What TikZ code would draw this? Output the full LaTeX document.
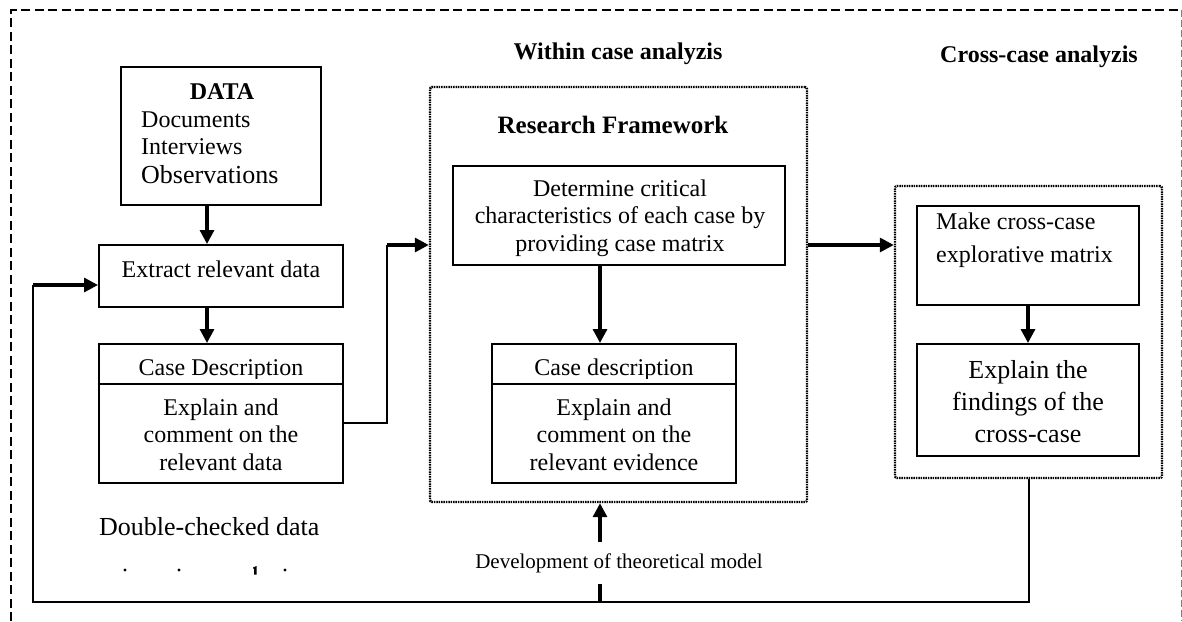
\documentclass[tikz,border=0pt]{standalone}
\usepackage{fontspec}
\setmainfont{Liberation Serif}
\usetikzlibrary{arrows.meta}
\begin{document}
\begin{tikzpicture}[x=1pt,y=-1pt,
  box/.style={draw, line width=2pt, inner sep=0pt},
  group/.style={draw, line width=2.4pt, dash pattern=on 1.5pt off 0.9pt, rounded corners=2pt, inner sep=0pt},
  link/.style={line width=2pt},
  bar/.style={line width=3.2pt},
  flow/.style={line width=3.2pt, -{Triangle[length=14pt,width=14pt]}},
  txt/.style={inner sep=0pt, font=\fontsize{24}{27.5}\selectfont, align=center},
  head/.style={inner sep=0pt, font=\fontsize{24}{28}\selectfont\bfseries}]

\useasboundingbox (0,0) rectangle (1182,621);

% outer frame
\draw[line width=2.8pt, dash pattern=on 9pt off 4.5pt] (11,621) -- (11,10) -- (1180,10);
\draw[gray, line width=1pt, dash pattern=on 7pt off 3pt] (1181,10) -- (1181,621);

% column headings
\node[head, anchor=base] (hWithin) at (618,59) {Within case analyzis};
\node[head, anchor=base] (hCross) at (1039,62) {Cross-case analyzis};

% ---- data preparation column ----
\node[box, minimum width=200pt, minimum height=138pt] (data) at (221,136) {};
\node[head, anchor=base] (dataT) at (222,99) {DATA};
\node[txt, anchor=base west] (docT) at (141,127) {Documents};
\node[txt, anchor=base west] (intT) at (141,154) {Interviews};
\node[txt, anchor=base west, font=\fontsize{26}{28}\selectfont] (obsT) at (141,183) {Observations};

\node[box, minimum width=244pt, minimum height=62pt] (extract) at (221,276) {};
\node[txt, anchor=base] (extractT) at (221,277) {Extract relevant data};

\node[box, minimum width=244pt, minimum height=40pt] (caseAh) at (221,364) {};
\node[box, minimum width=244pt, minimum height=99pt] (caseAb) at (221,433.5) {};
\begin{scope}
  \clip (caseAh.north west) rectangle ([yshift=7pt]caseAh.south east);
  \node[txt, anchor=base] (caseAhT) at (221,375) {Case Description};
\end{scope}
% multi-line texts are placed by the baseline of their last line
\node[txt, anchor=base] (caseAbT) at (221,470) {Explain and\\comment on the\\relevant data};

\node[txt, anchor=base west, font=\fontsize{26}{28}\selectfont] (dbl) at (99,535) {Double-checked data};
% tops of a clipped text line
\fill (125,570) circle (1.6pt);
\fill (179,570) circle (1.6pt);
\fill (285,570) circle (1.6pt);
\fill (253,567.5) -- (256.5,566) -- (256.5,574.5) -- (254,574.5) -- (254,568.5) -- (253,568.5) -- cycle;

% ---- within case analysis ----
\node[group, minimum width=377pt, minimum height=415pt] (rf) at (618.5,294.5) {};
\node[head, anchor=base, font=\fontsize{25}{28}\selectfont\bfseries] (rfT) at (613,133) {Research Framework};
\node[box, minimum width=332pt, minimum height=99pt] (det) at (619,215.5) {};
\node[txt, anchor=base] (detT) at (620,251) {Determine critical\\characteristics of each case by\\providing case matrix};

\node[box, minimum width=244pt, minimum height=40pt] (caseBh) at (614,364) {};
\node[box, minimum width=244pt, minimum height=99pt] (caseBb) at (614,433.5) {};
\begin{scope}
  \clip (caseBh.north west) rectangle ([yshift=7pt]caseBh.south east);
  \node[txt, anchor=base] (caseBhT) at (614,375) {Case description};
\end{scope}
\node[txt, anchor=base] (caseBbT) at (614,470) {Explain and\\comment on the\\relevant evidence};

\node[txt, anchor=base, font=\fontsize{21}{24}\selectfont, inner ysep=11pt] (dev) at (619,568) {Development of theoretical model};

% ---- cross-case analysis ----
\node[group, minimum width=267pt, minimum height=292pt] (cc) at (1028.5,332) {};
\node[box, minimum width=222pt, minimum height=99pt] (mk) at (1028,255.5) {};
\node[txt, anchor=base west, align=left, font=\fontsize{24}{33}\selectfont] (mkT) at (936,262) {Make cross-case\\explorative matrix};
\node[box, minimum width=222pt, minimum height=112pt] (fnd) at (1028,400) {};
\node[txt, anchor=base, font=\fontsize{26}{32}\selectfont] (fndT) at (1028,442) {Explain the\\findings of the\\cross-case};

% ---- connectors ----
\coordinate (c1) at (387,423);
\coordinate (c2) at (387,245);
\coordinate (b1) at (33,602);
\coordinate (c3) at (33,285);
\coordinate (t0) at (600,602);

\draw[flow] ([xshift=-14pt]data.south) -- ([xshift=-14pt]extract.north);
\draw[flow] ([xshift=-14pt]extract.south) -- ([xshift=-14pt]caseAh.north);
\draw[link] (caseAb.east |- c1) -- (c1) -- (c2);
\draw[flow] (c2) -- (rf.west |- c2);
\draw[flow] (det.south -| t0) -- (caseBh.north -| t0);
\draw[flow] (rf.east |- c2) -- (cc.west |- c2);
\draw[flow] (mk.south) -- (fnd.north -| mk.south);
\draw[link] (cc.south) -- (cc.south |- b1) -- (b1) -- (c3);
\draw[flow] (c3) -- (extract.west |- c3);
\draw[bar] (t0) -- (dev.south -| t0);
\draw[flow] (dev.north -| t0) -- (rf.south -| t0);
\end{tikzpicture}
\end{document}
